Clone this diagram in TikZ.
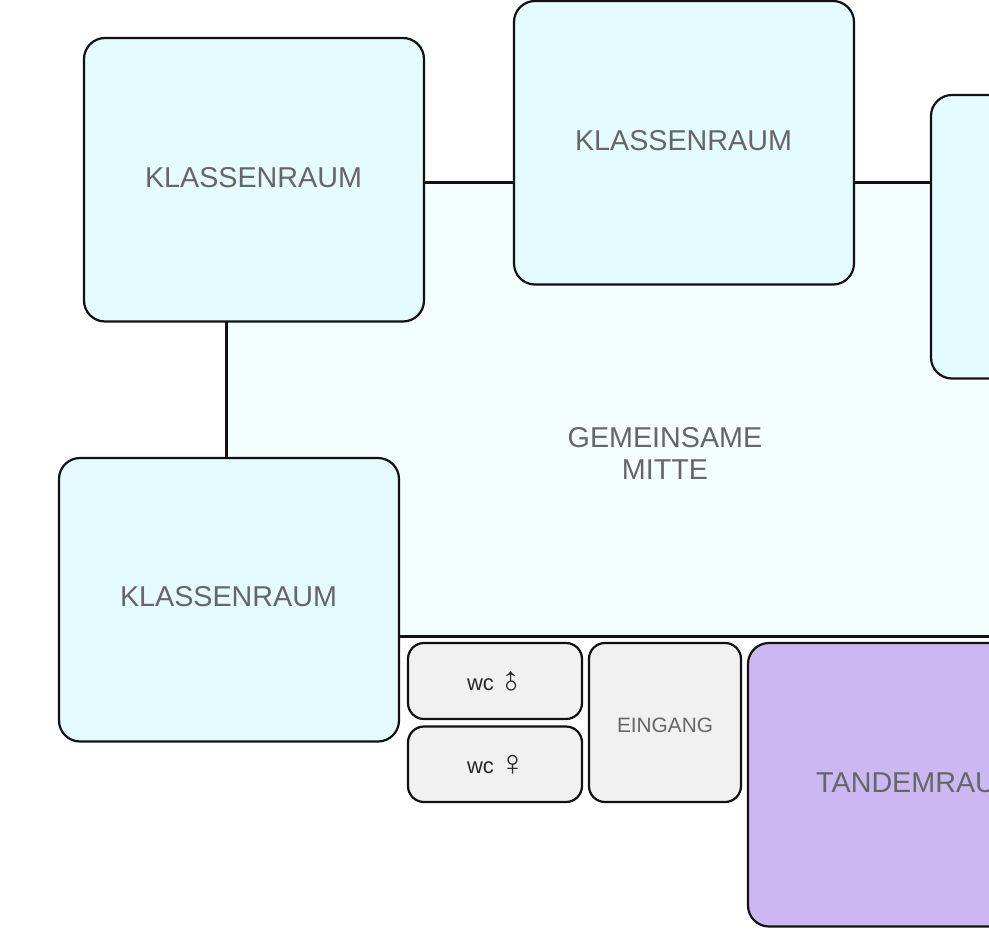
\documentclass[tikz,border=0pt]{standalone}
\usepackage{fontspec}
\setmainfont{Liberation Sans}
\definecolor{roomcyan}{HTML}{E4FBFF}
\definecolor{midcyan}{HTML}{F4FDFF}
\definecolor{roompurple}{HTML}{CBB8F3}
\definecolor{roomgrey}{HTML}{F1F1F1}
\definecolor{labelgrey}{HTML}{666666}
\definecolor{edge}{HTML}{111111}
\tikzset{
  x=1pt,y=-1pt,
  roomshape/.style={draw=edge,line width=2.2pt,rounded corners=21pt,inner sep=0pt,outer sep=0pt,anchor=north west},
  bigroom/.style={roomshape,fill=roomcyan,minimum width=340pt,minimum height=283.5pt},
  roomlabel/.style={text=labelgrey,font=\fontsize{28.7}{32}\selectfont,align=center,inner sep=0pt},
  smallroom/.style={roomshape,fill=roomgrey,rounded corners=16pt},
  wclabel/.style={text=black!85,font=\fontsize{22}{24}\selectfont,inner sep=0pt},
  sexsign/.style={text=black!85,font=\fontsize{36}{40}\selectfont,inner sep=0pt},
}
\begin{document}
\begin{tikzpicture}
\useasboundingbox (0,0) rectangle (989,948);
\clip (0,0) rectangle (989,948);
\fill[white] (0,0) rectangle (989,948);
% common centre
\fill[midcyan] (226,182) rectangle (1000,636);
\coordinate (topstart) at (424,182.4);
\coordinate (topmid) at (514,182.4);
\coordinate (topmidb) at (854,182.4);
\coordinate (topend) at (931,182.4);
\coordinate (leftstart) at (226.5,322);
\coordinate (leftend) at (226.5,458);
\coordinate (bottomstart) at (399,636.4);
\coordinate (bottomend) at (1000,636.4);
\draw[edge,line width=2.4pt] (topstart) -- (topmid) (topmidb) -- (topend) (leftstart) -- (leftend) (bottomstart) -- (bottomend);
\node[roomlabel] (mitte) at (665,453) {GEMEINSAME\\MITTE};
% classrooms
\node[bigroom] (r1) at (84,38) {};
\node[roomlabel] (r1t) at (253.5,178) {KLASSENRAUM};
\node[bigroom] (r2) at (514,1) {};
\node[roomlabel] (r2t) at (683.5,141) {KLASSENRAUM};
\node[bigroom] (r3) at (931,95) {};
\node[bigroom] (r4) at (59,458) {};
\node[roomlabel] (r4t) at (228.5,597) {KLASSENRAUM};
% tandem
\node[bigroom,fill=roompurple] (t) at (748,643) {};
\node[roomlabel] (tt) at (918,783) {TANDEMRAUM};
% small rooms
\node[smallroom,minimum width=174pt,minimum height=76pt] (wc1) at (408,643) {};
\node[smallroom,minimum width=174pt,minimum height=75.5pt] (wc2) at (408,726.5) {};
\node[smallroom,minimum width=152pt,minimum height=159pt] (ein) at (589,643) {};
\node[wclabel] at (480.5,684.5) {wc};
\node[sexsign,rotate=45] at (513,684) {♂};
\node[wclabel] at (480.5,767.5) {wc};
\node[sexsign] at (512.5,765) {♀};
\node[text=labelgrey,font=\fontsize{20.8}{24}\selectfont,inner sep=0pt] at (665,725.5) {EINGANG};
\end{tikzpicture}
\end{document}
